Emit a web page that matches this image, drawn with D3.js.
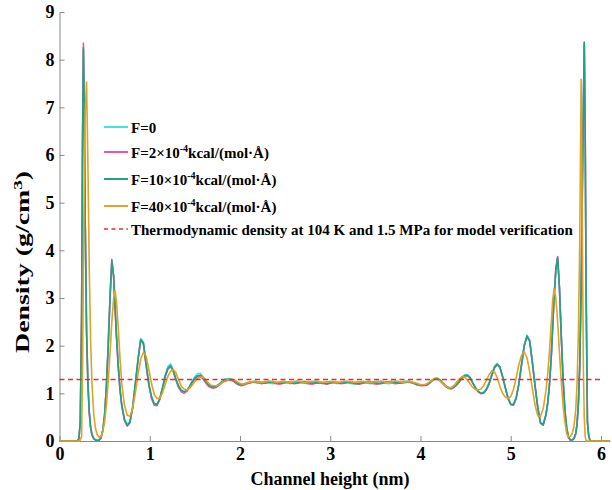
<!DOCTYPE html>
<html>
<head>
<meta charset="utf-8">
<script src="https://cdn.jsdelivr.net/npm/d3@7"></script>
<style>
  html, body { margin: 0; padding: 0; background: #fff; }
  svg { display: block; }
  svg text { font-family: "Liberation Serif", "DejaVu Serif", serif; font-weight: bold; }
</style>
</head>
<body>
<svg id="chart" width="612" height="490"></svg>
<script>
// Channel height grid (nm), shared by every density profile
const heights = [
  0, 0.1, 0.2, 0.215, 0.23, 0.245, 0.255, 0.265, 0.275, 0.285,
  0.3, 0.315, 0.33, 0.345, 0.36, 0.38, 0.4, 0.42, 0.44, 0.46,
  0.48, 0.5, 0.52, 0.54, 0.56, 0.58, 0.6, 0.615, 0.63, 0.65,
  0.67, 0.69, 0.72, 0.75, 0.78, 0.81, 0.84, 0.87, 0.9, 0.93,
  0.96, 0.99, 1.02, 1.05, 1.08, 1.11, 1.14, 1.17, 1.2, 1.23,
  1.26, 1.29, 1.32, 1.35, 1.38, 1.41, 1.44, 1.47, 1.5, 1.53,
  1.56, 1.59, 1.62, 1.65, 1.68, 1.71, 1.74, 1.77, 1.8, 1.83,
  1.86, 1.89, 1.92, 1.95, 1.98, 2.01, 2.04,
  2.08, 2.12, 2.16, 2.2, 2.24, 2.28, 2.32, 2.36, 2.4, 2.44,
  2.48, 2.52, 2.56, 2.6, 2.64, 2.68, 2.72, 2.76, 2.8, 2.84,
  2.88, 2.92, 2.96, 3.0, 3.04, 3.08, 3.12, 3.16, 3.2, 3.24,
  3.28, 3.32, 3.36, 3.4, 3.44, 3.48, 3.52, 3.56, 3.6, 3.64,
  3.68, 3.72, 3.76, 3.8, 3.84, 3.88, 3.92, 3.96, 4.0,
  4.04, 4.07, 4.1, 4.13, 4.16, 4.19, 4.22, 4.25, 4.28, 4.31,
  4.34, 4.37, 4.4, 4.43, 4.46, 4.49, 4.52, 4.55, 4.58, 4.61,
  4.64, 4.67, 4.7, 4.73, 4.76, 4.79, 4.82, 4.85, 4.88, 4.91,
  4.94, 4.97, 5.0, 5.03, 5.06, 5.09, 5.12, 5.15, 5.18, 5.21,
  5.24, 5.27, 5.3, 5.33, 5.36,
  5.39, 5.41, 5.43, 5.45, 5.465, 5.48, 5.5, 5.52, 5.54, 5.56,
  5.58, 5.6, 5.62, 5.64, 5.66, 5.68, 5.7, 5.72, 5.735, 5.75,
  5.765, 5.78, 5.795, 5.805, 5.815, 5.825, 5.835, 5.85, 5.865, 5.88,
  5.98, 6.08, 6.1
];

// Density (g/cm^3), F = 0
const densityF0 = [
  0, 0, 0, 0.05, 0.38, 2.5, 6.1, 8.22, 6.95, 4.7,
  2.35, 1.22, 0.62, 0.3, 0.14, 0.05, 0.02, 0.01, 0.02, 0.07,
  0.23, 0.56, 1.15, 2.0, 2.98, 3.75, 3.47, 2.88, 2.27, 1.62,
  1.1, 0.76, 0.46, 0.34, 0.41, 0.7, 1.2, 1.72, 2.15, 2.08,
  1.62, 1.2, 0.93, 0.79, 0.77, 0.88, 1.12, 1.38, 1.56, 1.62,
  1.5, 1.3, 1.15, 1.07, 1.04, 1.06, 1.15, 1.26, 1.35, 1.41,
  1.42, 1.35, 1.25, 1.17, 1.13, 1.13, 1.16, 1.2, 1.25, 1.29,
  1.31, 1.3, 1.27, 1.22, 1.19, 1.18, 1.2,
  1.22, 1.24, 1.23, 1.21, 1.23, 1.25, 1.22, 1.2, 1.21, 1.23,
  1.24, 1.22, 1.2, 1.22, 1.24, 1.23, 1.21, 1.2, 1.22, 1.24,
  1.22, 1.2, 1.21, 1.23, 1.22, 1.2, 1.22, 1.24, 1.22, 1.2,
  1.19, 1.21, 1.23, 1.22, 1.2, 1.21, 1.23, 1.24, 1.22, 1.2,
  1.21, 1.23, 1.22, 1.24, 1.26, 1.25, 1.21, 1.18, 1.17,
  1.17, 1.19, 1.23, 1.28, 1.32, 1.32, 1.28, 1.22, 1.16, 1.12,
  1.11, 1.14, 1.2, 1.27, 1.34, 1.39, 1.39, 1.33, 1.22, 1.12,
  1.04, 1.01, 1.02, 1.1, 1.23, 1.41, 1.57, 1.63, 1.56, 1.36,
  1.13, 0.91, 0.78, 0.77, 0.91, 1.21, 1.62, 2.02, 2.22, 2.12,
  1.66, 1.16, 0.71, 0.39, 0.35,
  0.56, 0.8, 1.2, 1.79, 2.38, 2.98, 3.58, 3.83, 3.2, 2.22,
  1.32, 0.66, 0.29, 0.08, 0.02, 0.02, 0.05, 0.15, 0.34, 0.78,
  1.55, 3.1, 5.4, 6.9, 8.3, 6.55, 3.3, 0.42, 0.1, 0,
  0, 0, 0
];

// Density (g/cm^3), F = 2e-4 kcal/(mol·Å)
const densityF2 = [
  0, 0, 0, 0.05, 0.42, 2.7, 6.3, 8.35, 6.85, 4.55,
  2.25, 1.18, 0.58, 0.27, 0.12, 0.05, 0.02, 0.01, 0.02, 0.07,
  0.22, 0.55, 1.17, 2.03, 3.05, 3.81, 3.44, 2.83, 2.22, 1.58,
  1.08, 0.73, 0.43, 0.31, 0.38, 0.68, 1.18, 1.7, 2.13, 2.03,
  1.58, 1.17, 0.89, 0.75, 0.74, 0.86, 1.08, 1.33, 1.5, 1.56,
  1.46, 1.27, 1.12, 1.03, 1.0, 1.04, 1.12, 1.22, 1.3, 1.35,
  1.36, 1.3, 1.22, 1.15, 1.12, 1.11, 1.13, 1.17, 1.22, 1.25,
  1.27, 1.28, 1.26, 1.22, 1.18, 1.16, 1.17,
  1.2, 1.22, 1.24, 1.22, 1.2, 1.22, 1.24, 1.23, 1.2, 1.19,
  1.21, 1.23, 1.22, 1.2, 1.21, 1.23, 1.22, 1.2, 1.19, 1.21,
  1.22, 1.21, 1.19, 1.21, 1.23, 1.22, 1.2, 1.21, 1.23, 1.22,
  1.2, 1.19, 1.21, 1.23, 1.22, 1.2, 1.19, 1.21, 1.23, 1.24,
  1.22, 1.2, 1.21, 1.23, 1.24, 1.23, 1.21, 1.18, 1.16,
  1.16, 1.17, 1.21, 1.26, 1.3, 1.3, 1.26, 1.2, 1.14, 1.1,
  1.09, 1.12, 1.17, 1.24, 1.31, 1.36, 1.37, 1.32, 1.21, 1.11,
  1.03, 0.99, 1.0, 1.07, 1.19, 1.37, 1.53, 1.6, 1.54, 1.34,
  1.11, 0.89, 0.76, 0.75, 0.89, 1.19, 1.59, 1.99, 2.19, 2.09,
  1.64, 1.14, 0.69, 0.37, 0.33,
  0.54, 0.79, 1.19, 1.8, 2.42, 3.02, 3.62, 3.87, 3.22, 2.2,
  1.29, 0.64, 0.27, 0.07, 0.02, 0.02, 0.05, 0.15, 0.36, 0.82,
  1.62, 3.25, 5.6, 7.1, 8.35, 6.45, 3.15, 0.38, 0.1, 0,
  0, 0, 0
];

// Density (g/cm^3), F = 10e-4 kcal/(mol·Å)
const densityF10 = [
  0, 0, 0, 0.05, 0.4, 2.6, 6.2, 8.25, 6.9, 4.6,
  2.3, 1.2, 0.6, 0.28, 0.13, 0.05, 0.02, 0.01, 0.02, 0.07,
  0.22, 0.55, 1.15, 2.0, 3.0, 3.78, 3.45, 2.85, 2.25, 1.6,
  1.1, 0.75, 0.45, 0.33, 0.4, 0.7, 1.2, 1.7, 2.12, 2.05,
  1.6, 1.2, 0.92, 0.78, 0.76, 0.88, 1.1, 1.35, 1.52, 1.58,
  1.48, 1.3, 1.15, 1.06, 1.03, 1.06, 1.14, 1.24, 1.32, 1.37,
  1.38, 1.33, 1.25, 1.18, 1.14, 1.13, 1.15, 1.19, 1.24, 1.27,
  1.29, 1.3, 1.28, 1.24, 1.2, 1.18, 1.19,
  1.21, 1.23, 1.25, 1.24, 1.22, 1.21, 1.23, 1.24, 1.22, 1.21,
  1.22, 1.24, 1.23, 1.21, 1.22, 1.24, 1.25, 1.23, 1.21, 1.22,
  1.23, 1.22, 1.2, 1.22, 1.24, 1.23, 1.21, 1.22, 1.24, 1.23,
  1.21, 1.2, 1.22, 1.24, 1.25, 1.23, 1.21, 1.2, 1.22, 1.24,
  1.25, 1.23, 1.21, 1.22, 1.23, 1.24, 1.22, 1.19, 1.17,
  1.17, 1.18, 1.22, 1.27, 1.31, 1.31, 1.27, 1.21, 1.15, 1.12,
  1.11, 1.13, 1.18, 1.25, 1.32, 1.37, 1.38, 1.33, 1.22, 1.12,
  1.04, 1.0, 1.01, 1.08, 1.2, 1.38, 1.54, 1.61, 1.55, 1.35,
  1.12, 0.9, 0.77, 0.76, 0.9, 1.2, 1.6, 2.0, 2.2, 2.1,
  1.65, 1.15, 0.7, 0.38, 0.34,
  0.55, 0.8, 1.2, 1.8, 2.4, 3.0, 3.6, 3.85, 3.2, 2.2,
  1.3, 0.65, 0.28, 0.08, 0.02, 0.02, 0.05, 0.15, 0.35, 0.8,
  1.6, 3.2, 5.5, 7.0, 8.37, 6.5, 3.2, 0.4, 0.1, 0,
  0, 0, 0
];

// Density (g/cm^3), F = 40e-4 kcal/(mol·Å)
const densityF40 = [
  0, 0, 0, 0, 0.02, 0.1, 1.5, 3.6, 5.6, 6.9,
  7.53, 5.8, 3.6, 2.1, 1.2, 0.55, 0.25, 0.12, 0.08, 0.1,
  0.2, 0.4, 0.75, 1.25, 1.85, 2.5, 3.0, 3.15, 2.95, 2.4,
  1.75, 1.2, 0.75, 0.54, 0.52, 0.68, 1.0, 1.4, 1.72, 1.86,
  1.78, 1.5, 1.2, 0.98, 0.89, 0.9, 1.0, 1.18, 1.35, 1.46,
  1.5, 1.43, 1.28, 1.15, 1.09, 1.07, 1.1, 1.17, 1.25, 1.31,
  1.34, 1.34, 1.29, 1.22, 1.17, 1.16, 1.16, 1.18, 1.22, 1.26,
  1.28, 1.29, 1.29, 1.27, 1.23, 1.2, 1.19,
  1.22, 1.24, 1.25, 1.24, 1.23, 1.24, 1.26, 1.25, 1.23, 1.24,
  1.25, 1.24, 1.23, 1.25, 1.26, 1.24, 1.23, 1.24, 1.25, 1.26,
  1.24, 1.23, 1.24, 1.25, 1.24, 1.23, 1.24, 1.26, 1.25, 1.24,
  1.23, 1.24, 1.25, 1.24, 1.23, 1.24, 1.25, 1.26, 1.24, 1.23,
  1.24, 1.26, 1.25, 1.23, 1.24, 1.25, 1.23, 1.21, 1.18,
  1.18, 1.2, 1.24, 1.28, 1.3, 1.29, 1.25, 1.2, 1.15, 1.12,
  1.12, 1.16, 1.23, 1.3, 1.35, 1.34, 1.28, 1.2, 1.12, 1.08,
  1.07, 1.09, 1.16, 1.27, 1.39, 1.47, 1.45, 1.33, 1.15, 1.0,
  0.92, 0.89, 0.93, 1.08, 1.32, 1.6, 1.8, 1.87, 1.75, 1.45,
  1.1, 0.75, 0.53, 0.52, 0.68,
  1.05, 1.4, 1.9, 2.5, 2.95, 3.2, 3.0, 2.5, 1.85, 1.25,
  0.75, 0.4, 0.15, 0.09, 0.1, 0.15, 0.3, 0.65, 1.2, 2.3,
  4.2, 7.59, 4.0, 1.5, 0.5, 0.1, 0, 0, 0, 0,
  0, 0, 0
];

// Reference (thermodynamic) density line
const thermoHeights = [0, 6];
const thermoDensity = [1.29, 1.29];

const xTicks = [0, 1, 2, 3, 4, 5, 6];
const yTicks = [0, 1, 2, 3, 4, 5, 6, 7, 8, 9];

const seriesLabels = [
  ["F=0", "", ""],
  ["F=2×10", "-4", "kcal/(mol·Å)"],
  ["F=10×10", "-4", "kcal/(mol·Å)"],
  ["F=40×10", "-4", "kcal/(mol·Å)"]
];
const thermoLabel = "Thermodynamic density at 104 K and 1.5 MPa for model verification";
const seriesColors = ["#3fe3e6", "#f0579f", "#24a082", "#e0a324"];
const thermoColor = "#f02a2a";

const FONT = "Liberation Serif";

const svg = d3.select("#chart");
const x = d3.scaleLinear().domain([0, 6.1]).range([59.5, 610]);
const y = d3.scaleLinear().domain([0, 9]).range([441, 12]);

// Axes (ticks pointing inward)
const gx = svg.append("g")
  .attr("transform", `translate(0,${y(0)})`)
  .call(d3.axisBottom(x).tickValues(xTicks).tickFormat(d3.format("d"))
    .tickSizeInner(-5).tickSizeOuter(0).tickPadding(6));
const gy = svg.append("g")
  .attr("transform", `translate(${x(0)},0)`)
  .call(d3.axisLeft(y).tickValues(yTicks).tickFormat(d3.format("d"))
    .tickSizeInner(-5).tickSizeOuter(0).tickPadding(5));

[gx, gy].forEach(g => {
  g.attr("font-family", null).attr("font-size", null);
  g.select(".domain").attr("stroke", "#8a8a8a").attr("stroke-width", 1);
  g.selectAll(".tick line").attr("stroke", "#8a8a8a").attr("stroke-width", 1);
  g.selectAll(".tick text")
    .attr("fill", "#000")
    .attr("font-family", FONT)
    .attr("font-weight", "bold")
    .attr("font-size", 18);
});

// Axis titles
svg.append("text")
  .attr("x", 330).attr("y", 485)
  .attr("text-anchor", "middle")
  .attr("font-family", FONT).attr("font-weight", "bold").attr("font-size", 18)
  .text("Channel height (nm)");

const yTitle = svg.append("text")
  .attr("transform", "translate(29,262) rotate(-90)")
  .attr("text-anchor", "middle")
  .attr("textLength", 182)
  .attr("lengthAdjust", "spacingAndGlyphs")
  .attr("font-family", FONT).attr("font-weight", "bold").attr("font-size", 19);
yTitle.append("tspan").text("Density (g/cm");
yTitle.append("tspan").attr("dy", -7).attr("font-size", 13).text("3");
yTitle.append("tspan").attr("dy", 7).text(")");

// Density profiles
const line = d3.line().x(d => x(d[0])).y(d => y(d[1]));
const allSeries = [densityF0, densityF2, densityF10, densityF40];
allSeries.forEach((vals, i) => {
  const pts = heights.map((h, k) => [h, vals[k]]).filter(p => p[1] !== undefined);
  svg.append("path")
    .datum(pts)
    .attr("fill", "none")
    .attr("stroke", seriesColors[i])
    .attr("stroke-width", 1.6)
    .attr("stroke-linejoin", "round")
    .attr("d", line);
});

// Thermodynamic reference density
svg.append("path")
  .datum(thermoHeights.map((h, k) => [h, thermoDensity[k]]))
  .attr("fill", "none")
  .attr("stroke", thermoColor)
  .attr("stroke-width", 1.3)
  .attr("stroke-dasharray", "5,3.5")
  .attr("d", line);

// Legend
const legendRowY = [127, 152, 179, 206, 229];
const legend = svg.append("g");
seriesLabels.forEach((parts, i) => {
  const ry = legendRowY[i];
  legend.append("line")
    .attr("x1", 104).attr("x2", 128).attr("y1", ry).attr("y2", ry)
    .attr("stroke", seriesColors[i]).attr("stroke-width", 2);
  const t = legend.append("text")
    .attr("x", 131).attr("y", ry + 5.5)
    .attr("font-family", FONT).attr("font-weight", "bold").attr("font-size", 15);
  t.append("tspan").text(parts[0]);
  if (parts[1]) {
    t.append("tspan").attr("dy", -6).attr("font-size", 10).text(parts[1]);
    t.append("tspan").attr("dy", 6).text(parts[2]);
  }
});
legend.append("line")
  .attr("x1", 104).attr("x2", 128).attr("y1", legendRowY[4]).attr("y2", legendRowY[4])
  .attr("stroke", thermoColor).attr("stroke-width", 1.5).attr("stroke-dasharray", "4,3.5");
legend.append("text")
  .attr("x", 131).attr("y", legendRowY[4] + 5.5)
  .attr("font-family", FONT).attr("font-weight", "bold").attr("font-size", 15)
  .text(thermoLabel);
</script>
</body>
</html>
